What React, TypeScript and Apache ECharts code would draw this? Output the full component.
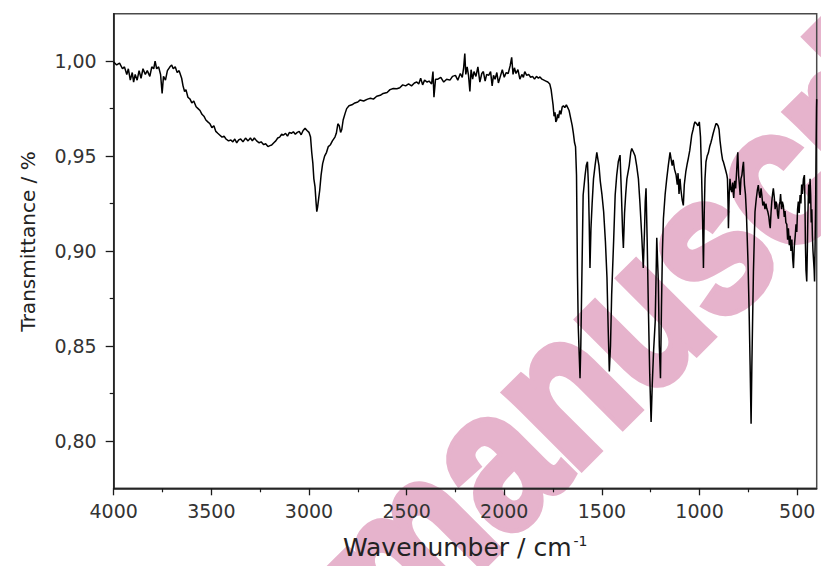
import React, { useEffect, useRef } from "react";
import * as echarts from "echarts";

// Wavenumber (cm-1) and transmittance
const wavenumbers = [
  4000, 3985, 3970, 3955, 3945, 3933, 3925, 3915, 3905, 3898, 3890, 3880, 3870, 3860, 3850, 3838, 3828, 3815, 3805, 3795,
  3788, 3780, 3770, 3760, 3752, 3745, 3735, 3725, 3712, 3703, 3695, 3685, 3675, 3665, 3652, 3645, 3637, 3630, 3620, 3609,
  3600, 3590, 3578, 3568, 3558, 3548, 3538, 3528, 3518, 3507, 3497, 3487, 3477, 3467, 3456, 3445, 3435, 3425, 3412, 3400,
  3390, 3380, 3370, 3360, 3350, 3338, 3325, 3312, 3300, 3290, 3280, 3268, 3255, 3245, 3232, 3222, 3210, 3200, 3191, 3180,
  3170, 3160, 3150, 3140, 3131, 3120, 3110, 3100, 3090, 3080, 3070, 3060, 3050, 3040, 3030, 3020, 3010, 3000, 2992, 2986,
  2980, 2975, 2969, 2964, 2960, 2956, 2950, 2945, 2938, 2930, 2920, 2910, 2901, 2890, 2880, 2867, 2860, 2852, 2845, 2838,
  2832, 2825, 2815, 2807, 2795, 2780, 2765, 2750, 2739, 2720, 2700, 2685, 2670, 2653, 2635, 2620, 2600, 2585, 2568, 2550,
  2535, 2520, 2505, 2490, 2475, 2460, 2448, 2438, 2428, 2418, 2408, 2395, 2385, 2372, 2365, 2360, 2352, 2340, 2325, 2310,
  2295, 2278, 2265, 2250, 2238, 2225, 2215, 2208, 2202, 2197, 2190, 2183, 2176, 2170, 2162, 2155, 2145, 2135, 2125, 2115,
  2107, 2098, 2090, 2080, 2070, 2062, 2055, 2047, 2038, 2030, 2020, 2010, 2000, 1990, 1980, 1970, 1962, 1955, 1948, 1940,
  1930, 1920, 1910, 1902, 1895, 1885, 1875, 1865, 1855, 1845, 1835, 1825, 1817, 1807, 1797, 1787, 1777, 1767, 1760, 1755,
  1750, 1745, 1740, 1736, 1731, 1727, 1722, 1716, 1710, 1703, 1697, 1690, 1682, 1675, 1668, 1660, 1652, 1646, 1640, 1635,
  1630, 1625, 1621, 1616, 1612, 1608, 1604, 1596, 1586, 1580, 1574, 1569, 1565, 1561, 1556, 1550, 1543, 1535, 1526, 1520,
  1515, 1508, 1500, 1491, 1482, 1474, 1468, 1462, 1456, 1450, 1440, 1432, 1424, 1416, 1407, 1400, 1394, 1390, 1384, 1378,
  1372, 1360, 1352, 1347, 1338, 1330, 1322, 1313, 1305, 1296, 1288, 1282, 1278, 1274, 1268, 1262, 1255, 1248, 1242, 1235,
  1227, 1222, 1219, 1215, 1211, 1206, 1200, 1195, 1190, 1185, 1176, 1168, 1160, 1151, 1145, 1140, 1135, 1128, 1120, 1114,
  1110, 1105, 1100, 1095, 1089, 1083, 1078, 1070, 1063, 1057, 1050, 1045, 1040, 1033, 1027, 1023, 1015, 1008, 1001, 995,
  989, 984, 980, 976, 972, 967, 961, 955, 948, 942, 937, 930, 922, 916, 912, 905, 900, 895, 888, 882,
  878, 870, 865, 860, 857, 854, 852, 848, 844, 840, 835, 830, 825, 820, 815, 810, 806, 804, 800, 796,
  792, 788, 783, 779, 775, 770, 765, 760, 758, 752, 746, 741, 736, 732, 728, 724, 720, 716, 710, 704,
  699, 694, 690, 685, 681, 676, 670, 665, 660, 656, 651, 645, 641, 638, 634, 630, 626, 622, 617, 613,
  608, 604, 600, 596, 592, 588, 585, 580, 576, 571, 566, 562, 558, 553, 549, 545, 540, 536, 532, 527,
  523, 519, 515, 510, 506, 502, 498, 494, 490, 485, 481, 477, 473, 468, 463, 460, 458, 455, 451, 448,
  445, 441, 437, 434, 431, 428, 425, 422, 419, 416, 413, 411, 408, 405, 403, 401, 400,
];

const transmittance = [
  0.9996, 0.998, 0.999, 0.996, 0.997, 0.993, 0.996, 0.99, 0.994, 0.989, 0.993, 0.99, 0.995, 0.991, 0.996, 0.993, 0.995, 0.992, 0.997, 0.996,
  1.0, 0.996, 0.997, 0.993, 0.983, 0.992, 0.99, 0.995, 0.997, 0.998, 0.996, 0.997, 0.994, 0.995, 0.991, 0.987, 0.984, 0.985, 0.981, 0.98,
  0.978, 0.979, 0.976, 0.975, 0.974, 0.972, 0.971, 0.969, 0.968, 0.967, 0.965, 0.966, 0.963, 0.962, 0.961, 0.96, 0.9605, 0.959, 0.958, 0.9585,
  0.9575, 0.959, 0.957, 0.9585, 0.959, 0.9575, 0.9595, 0.958, 0.9595, 0.958, 0.9595, 0.958, 0.957, 0.9575, 0.956, 0.9565, 0.955, 0.9555, 0.9558, 0.957,
  0.958, 0.9595, 0.96, 0.9615, 0.961, 0.962, 0.9605, 0.9625, 0.962, 0.9628, 0.9615, 0.9625, 0.963, 0.9612, 0.9635, 0.9646, 0.9635, 0.9625, 0.96, 0.952,
  0.946, 0.938, 0.9338, 0.926, 0.9207, 0.923, 0.928, 0.932, 0.94, 0.946, 0.95, 0.952, 0.955, 0.956, 0.958, 0.96, 0.962, 0.967, 0.966, 0.9625,
  0.964, 0.969, 0.9725, 0.975, 0.9765, 0.977, 0.978, 0.9785, 0.9795, 0.979, 0.98, 0.9805, 0.98, 0.9815, 0.982, 0.983, 0.9835, 0.985, 0.9856, 0.9855,
  0.986, 0.9875, 0.987, 0.988, 0.987, 0.9885, 0.989, 0.988, 0.991, 0.9875, 0.99, 0.989, 0.9895, 0.988, 0.9945, 0.981, 0.9905, 0.9905, 0.9915, 0.989,
  0.9905, 0.99, 0.992, 0.9925, 0.99, 0.9935, 0.9915, 0.9965, 1.004, 0.993, 0.997, 0.9925, 0.984, 0.9955, 0.9905, 0.9945, 0.992, 0.997, 0.989, 0.9935,
  0.9945, 0.9895, 0.993, 0.9925, 0.9945, 0.987, 0.9925, 0.9905, 0.994, 0.9885, 0.992, 0.9955, 0.9915, 0.994, 0.9935, 0.9975, 1.002, 0.993, 0.9965, 0.9935,
  0.9955, 0.9905, 0.993, 0.9915, 0.9945, 0.9925, 0.993, 0.9915, 0.992, 0.9905, 0.992, 0.991, 0.9917, 0.9905, 0.99, 0.9895, 0.989, 0.988, 0.985, 0.981,
  0.977, 0.971, 0.973, 0.968, 0.969, 0.972, 0.97, 0.974, 0.972, 0.976, 0.9765, 0.9755, 0.977, 0.9755, 0.974, 0.97, 0.966, 0.962, 0.957, 0.955,
  0.94, 0.887, 0.86, 0.845, 0.833, 0.85, 0.877, 0.9295, 0.94, 0.945, 0.947, 0.935, 0.915, 0.891, 0.912, 0.925, 0.938, 0.945, 0.952, 0.948,
  0.945, 0.9365, 0.93, 0.9207, 0.905, 0.886, 0.86, 0.8365, 0.85, 0.877, 0.905, 0.9295, 0.94, 0.947, 0.9505, 0.93, 0.91, 0.9016, 0.92, 0.93,
  0.938, 0.945, 0.952, 0.954, 0.952, 0.95, 0.945, 0.938, 0.925, 0.908, 0.891, 0.91, 0.926, 0.933, 0.905, 0.87, 0.835, 0.81, 0.83, 0.848,
  0.8628, 0.89, 0.907, 0.895, 0.884, 0.85, 0.833, 0.87, 0.9, 0.917, 0.93, 0.938, 0.945, 0.952, 0.948, 0.945, 0.948, 0.943, 0.94, 0.935,
  0.941, 0.93, 0.938, 0.932, 0.927, 0.924, 0.935, 0.942, 0.946, 0.949, 0.953, 0.957, 0.961, 0.964, 0.967, 0.968, 0.967, 0.966, 0.968, 0.96,
  0.938, 0.915, 0.891, 0.92, 0.938, 0.947, 0.95, 0.9516, 0.955, 0.957, 0.959, 0.962, 0.965, 0.967, 0.967, 0.966, 0.964, 0.958, 0.952, 0.948,
  0.947, 0.944, 0.942, 0.94, 0.938, 0.925, 0.912, 0.93, 0.938, 0.933, 0.931, 0.936, 0.928, 0.937, 0.933, 0.942, 0.95, 0.952, 0.94, 0.935,
  0.9295, 0.938, 0.94, 0.944, 0.947, 0.935, 0.93, 0.92, 0.9137, 0.895, 0.868, 0.84, 0.809, 0.84, 0.865, 0.889, 0.905, 0.9207, 0.927, 0.932,
  0.9347, 0.93, 0.928, 0.933, 0.9295, 0.924, 0.926, 0.922, 0.925, 0.9225, 0.921, 0.918, 0.914, 0.912, 0.92, 0.926, 0.93, 0.933, 0.928, 0.922,
  0.926, 0.924, 0.919, 0.917, 0.924, 0.926, 0.93, 0.922, 0.926, 0.924, 0.918, 0.921, 0.915, 0.914, 0.906, 0.912, 0.903, 0.908, 0.9, 0.906,
  0.896, 0.891, 0.902, 0.908, 0.914, 0.91, 0.922, 0.926, 0.92, 0.9295, 0.925, 0.935, 0.93, 0.938, 0.94, 0.925, 0.905, 0.89, 0.884, 0.9,
  0.92, 0.935, 0.925, 0.938, 0.93, 0.915, 0.922, 0.908, 0.9, 0.895, 0.89, 0.884, 0.905, 0.93, 0.955, 0.975, 0.98,
];

const xMajorTicks = [4000, 3500, 3000, 2500, 2000, 1500, 1000, 500];
const xMinorTicks = [3750, 3250, 2750, 2250, 1750, 1250, 750];
const yMajorTicks = [0.8, 0.85, 0.9, 0.95, 1.0];
const yMinorTicks = [0.825, 0.875, 0.925, 0.975];

const xTitle = "Wavenumber / cm";
const xTitleSup = "-1";
const yTitle = "Transmittance / %";
const watermarkText = "manuscript";

export default function App() {
  const ref = useRef<HTMLDivElement>(null);

  useEffect(() => {
    if (!ref.current) return;
    const chart = echarts.init(ref.current, undefined, { renderer: "svg" });
    const labelFont = "DejaVu Sans";
    const xRange = { min: 400, max: 4000 };
    const yRange = { min: 0.775, max: 1.025 };

    const option: any = {
      animation: false,
      backgroundColor: "#ffffff",
      grid: {
        left: 113.7,
        right: 4.3,
        top: 13.7,
        bottom: 77.7,
        show: true,
        borderColor: "#4a4a4a",
        borderWidth: 1.5,
        backgroundColor: "transparent",
      },
      xAxis: [
        {
          type: "value",
          inverse: true,
          ...xRange,
          position: "bottom",
          axisLine: { show: true, onZero: false, lineStyle: { color: "#1a1a1a", width: 1.5 } },
          axisTick: { show: true, customValues: xMajorTicks, length: 7, lineStyle: { color: "#1a1a1a", width: 1.3 } },
          axisLabel: {
            customValues: xMajorTicks,
            fontFamily: labelFont,
            fontSize: 19,
            color: "#333",
            margin: 13,
            formatter: (v: number) => String(v),
          },
          splitLine: { show: false },
          name: xTitle + "{sup|" + xTitleSup + "}",
          nameLocation: "middle",
          nameGap: 46,
          nameTextStyle: {
            fontFamily: labelFont,
            fontSize: 25,
            color: "#222",
            rich: {
              sup: { fontFamily: labelFont, fontSize: 14, color: "#222", verticalAlign: "top", padding: [0, 0, 12, 2] },
            },
          },
        },
        {
          type: "value",
          inverse: true,
          ...xRange,
          position: "bottom",
          axisLine: { show: false, onZero: false },
          axisTick: { show: true, customValues: xMinorTicks, length: 4, lineStyle: { color: "#1a1a1a", width: 1.2 } },
          axisLabel: { show: false },
          splitLine: { show: false },
        },
      ],
      yAxis: [
        {
          type: "value",
          ...yRange,
          position: "left",
          axisLine: { show: true, onZero: false, lineStyle: { color: "#1a1a1a", width: 1.5 } },
          axisTick: { show: true, customValues: yMajorTicks, length: 8, lineStyle: { color: "#1a1a1a", width: 1.3 } },
          axisLabel: {
            customValues: yMajorTicks,
            fontFamily: labelFont,
            fontSize: 19,
            color: "#333",
            margin: 17,
            formatter: (v: number) => v.toFixed(2).replace(".", ","),
          },
          splitLine: { show: false },
          name: yTitle,
          nameLocation: "middle",
          nameGap: 76,
          nameTextStyle: { fontFamily: labelFont, fontSize: 20, color: "#222", padding: [0, 0, 0, 19] },
        },
        {
          type: "value",
          ...yRange,
          position: "left",
          axisLine: { show: false, onZero: false },
          axisTick: { show: true, customValues: yMinorTicks, length: 4, lineStyle: { color: "#1a1a1a", width: 1.2 } },
          axisLabel: { show: false },
          splitLine: { show: false },
        },
      ],
      series: [
        {
          type: "line",
          xAxisIndex: 0,
          yAxisIndex: 0,
          data: wavenumbers.map((w, i) => [w, transmittance[i]]),
          symbol: "none",
          showSymbol: false,
          clip: true,
          z: 5,
          lineStyle: { color: "#000", width: 1.5 },
        },
      ],
      graphic: [
        {
          type: "text",
          x: 350,
          y: 600,
          rotation: Math.PI / 4,
          scaleX: 0.85,
          scaleY: 1,
          z: -10,
          silent: true,
          style: {
            text: watermarkText,
            fontSize: 200,
            fontWeight: "bold",
            fontFamily: "Liberation Sans",
            fill: "#e6b3cc",
            stroke: "#e6b3cc",
            lineWidth: 9,
            align: "left",
            verticalAlign: "middle",
          },
        },
      ],
    };

    chart.setOption(option);
    return () => chart.dispose();
  }, []);

  return (
    <div
      ref={ref}
      style={{ position: "fixed", left: 0, top: 0, width: 821, height: 566, background: "#fff" }}
    />
  );
}
